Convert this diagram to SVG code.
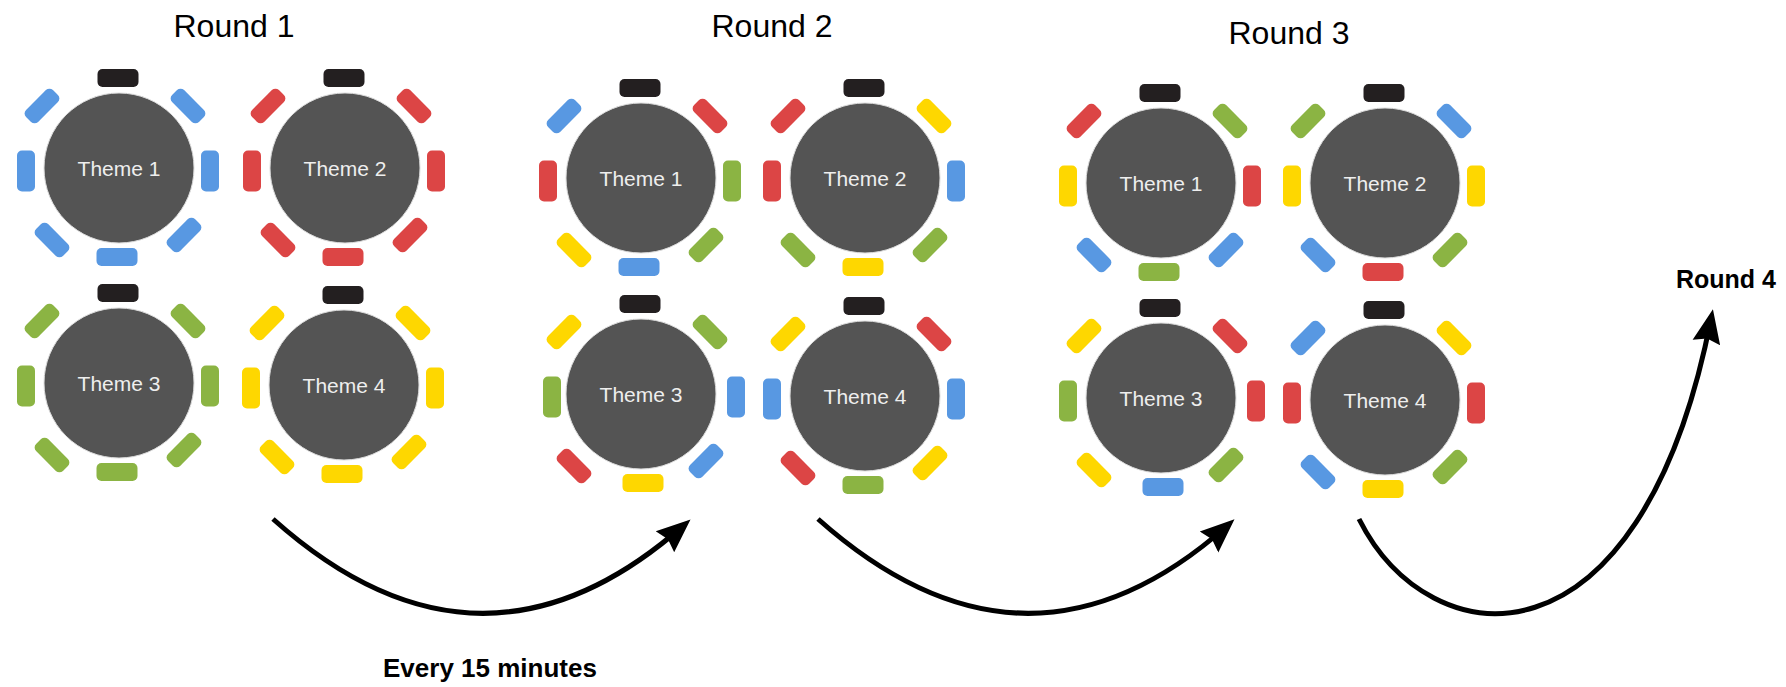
<svg xmlns="http://www.w3.org/2000/svg" xmlns:xlink="http://www.w3.org/1999/xlink" width="1786" height="687" viewBox="0 0 1786 687">
<defs>
<style>
.tbl{fill:#545454;stroke:#dcdcdc;stroke-width:1}
.tt{font-family:"Liberation Sans",Arial,sans-serif;font-size:21px;fill:#eeeeee;text-anchor:middle}
.ttl{font-family:"Liberation Sans",Arial,sans-serif;font-size:32px;fill:#000;text-anchor:middle}
.lbl{font-family:"Liberation Sans",Arial,sans-serif;font-size:25px;font-weight:bold;fill:#000}
.b{fill:#5898e2}.r{fill:#dc4545}.g{fill:#8bb443}.y{fill:#fed700}.k{fill:#231f20}
.arr{fill:none;stroke:#000;stroke-width:5}
</style>
<marker id="ah" markerUnits="userSpaceOnUse" markerWidth="40" markerHeight="34" refX="24" refY="15" orient="auto">
<path d="M0,1 L34,15 L0,29 L4,15 z" fill="#000"/>
</marker>
<rect id="sh" x="-20.5" y="-9" width="41" height="18" rx="5"/>
<rect id="sv" x="-9" y="-20.5" width="18" height="41" rx="5"/>
<rect id="sa" x="-19" y="-8.5" width="38" height="17" rx="5" transform="rotate(-45)"/>
<rect id="sd" x="-19" y="-8.5" width="38" height="17" rx="5" transform="rotate(45)"/>
</defs>
<rect width="1786" height="687" fill="#fff"/>

<g id="titles">
<text class="ttl" x="234" y="37">Round 1</text>
<text class="ttl" x="772" y="37">Round 2</text>
<text class="ttl" x="1289" y="44">Round 3</text>
<text class="lbl" x="1676" y="288">Round 4</text>
<text class="lbl" x="383" y="677" style="font-size:26px">Every 15 minutes</text>
</g>

<!-- Round 1 -->
<g id="r1t1" transform="translate(119,168)">
<use href="#sh" class="k" x="-1" y="-90"/>
<use href="#sa" class="b" x="-77" y="-62"/><use href="#sd" class="b" x="69" y="-62"/>
<use href="#sv" class="b" x="-93" y="3"/><use href="#sv" class="b" x="91" y="3"/>
<use href="#sd" class="b" x="-67" y="72"/><use href="#sa" class="b" x="65" y="67"/>
<use href="#sh" class="b" x="-2" y="89"/>
<circle class="tbl" r="75"/><text class="tt" y="8">Theme 1</text>
</g>
<g id="r1t2" transform="translate(345,168)">
<use href="#sh" class="k" x="-1" y="-90"/>
<use href="#sa" class="r" x="-77" y="-62"/><use href="#sd" class="r" x="69" y="-62"/>
<use href="#sv" class="r" x="-93" y="3"/><use href="#sv" class="r" x="91" y="3"/>
<use href="#sd" class="r" x="-67" y="72"/><use href="#sa" class="r" x="65" y="67"/>
<use href="#sh" class="r" x="-2" y="89"/>
<circle class="tbl" r="75"/><text class="tt" y="8">Theme 2</text>
</g>
<g id="r1t3" transform="translate(119,383)">
<use href="#sh" class="k" x="-1" y="-90"/>
<use href="#sa" class="g" x="-77" y="-62"/><use href="#sd" class="g" x="69" y="-62"/>
<use href="#sv" class="g" x="-93" y="3"/><use href="#sv" class="g" x="91" y="3"/>
<use href="#sd" class="g" x="-67" y="72"/><use href="#sa" class="g" x="65" y="67"/>
<use href="#sh" class="g" x="-2" y="89"/>
<circle class="tbl" r="75"/><text class="tt" y="8">Theme 3</text>
</g>
<g id="r1t4" transform="translate(344,385)">
<use href="#sh" class="k" x="-1" y="-90"/>
<use href="#sa" class="y" x="-77" y="-62"/><use href="#sd" class="y" x="69" y="-62"/>
<use href="#sv" class="y" x="-93" y="3"/><use href="#sv" class="y" x="91" y="3"/>
<use href="#sd" class="y" x="-67" y="72"/><use href="#sa" class="y" x="65" y="67"/>
<use href="#sh" class="y" x="-2" y="89"/>
<circle class="tbl" r="75"/><text class="tt" y="8">Theme 4</text>
</g>

<!-- Round 2 -->
<g id="r2t1" transform="translate(641,178)">
<use href="#sh" class="k" x="-1" y="-90"/>
<use href="#sa" class="b" x="-77" y="-62"/><use href="#sd" class="r" x="69" y="-62"/>
<use href="#sv" class="r" x="-93" y="3"/><use href="#sv" class="g" x="91" y="3"/>
<use href="#sd" class="y" x="-67" y="72"/><use href="#sa" class="g" x="65" y="67"/>
<use href="#sh" class="b" x="-2" y="89"/>
<circle class="tbl" r="75"/><text class="tt" y="8">Theme 1</text>
</g>
<g id="r2t2" transform="translate(865,178)">
<use href="#sh" class="k" x="-1" y="-90"/>
<use href="#sa" class="r" x="-77" y="-62"/><use href="#sd" class="y" x="69" y="-62"/>
<use href="#sv" class="r" x="-93" y="3"/><use href="#sv" class="b" x="91" y="3"/>
<use href="#sd" class="g" x="-67" y="72"/><use href="#sa" class="g" x="65" y="67"/>
<use href="#sh" class="y" x="-2" y="89"/>
<circle class="tbl" r="75"/><text class="tt" y="8">Theme 2</text>
</g>
<g id="r2t3" transform="translate(641,394)">
<use href="#sh" class="k" x="-1" y="-90"/>
<use href="#sa" class="y" x="-77" y="-62"/><use href="#sd" class="g" x="69" y="-62"/>
<use href="#sv" class="g" x="-89" y="3"/><use href="#sv" class="b" x="95" y="3"/>
<use href="#sd" class="r" x="-67" y="72"/><use href="#sa" class="b" x="65" y="67"/>
<use href="#sh" class="y" x="2" y="89"/>
<circle class="tbl" r="75"/><text class="tt" y="8">Theme 3</text>
</g>
<g id="r2t4" transform="translate(865,396)">
<use href="#sh" class="k" x="-1" y="-90"/>
<use href="#sa" class="y" x="-77" y="-62"/><use href="#sd" class="r" x="69" y="-62"/>
<use href="#sv" class="b" x="-93" y="3"/><use href="#sv" class="b" x="91" y="3"/>
<use href="#sd" class="r" x="-67" y="72"/><use href="#sa" class="y" x="65" y="67"/>
<use href="#sh" class="g" x="-2" y="89"/>
<circle class="tbl" r="75"/><text class="tt" y="8">Theme 4</text>
</g>

<!-- Round 3 -->
<g id="r3t1" transform="translate(1161,183)">
<use href="#sh" class="k" x="-1" y="-90"/>
<use href="#sa" class="r" x="-77" y="-62"/><use href="#sd" class="g" x="69" y="-62"/>
<use href="#sv" class="y" x="-93" y="3"/><use href="#sv" class="r" x="91" y="3"/>
<use href="#sd" class="b" x="-67" y="72"/><use href="#sa" class="b" x="65" y="67"/>
<use href="#sh" class="g" x="-2" y="89"/>
<circle class="tbl" r="75"/><text class="tt" y="8">Theme 1</text>
</g>
<g id="r3t2" transform="translate(1385,183)">
<use href="#sh" class="k" x="-1" y="-90"/>
<use href="#sa" class="g" x="-77" y="-62"/><use href="#sd" class="b" x="69" y="-62"/>
<use href="#sv" class="y" x="-93" y="3"/><use href="#sv" class="y" x="91" y="3"/>
<use href="#sd" class="b" x="-67" y="72"/><use href="#sa" class="g" x="65" y="67"/>
<use href="#sh" class="r" x="-2" y="89"/>
<circle class="tbl" r="75"/><text class="tt" y="8">Theme 2</text>
</g>
<g id="r3t3" transform="translate(1161,398)">
<use href="#sh" class="k" x="-1" y="-90"/>
<use href="#sa" class="y" x="-77" y="-62"/><use href="#sd" class="r" x="69" y="-62"/>
<use href="#sv" class="g" x="-93" y="3"/><use href="#sv" class="r" x="95" y="3"/>
<use href="#sd" class="y" x="-67" y="72"/><use href="#sa" class="g" x="65" y="67"/>
<use href="#sh" class="b" x="2" y="89"/>
<circle class="tbl" r="75"/><text class="tt" y="8">Theme 3</text>
</g>
<g id="r3t4" transform="translate(1385,400)">
<use href="#sh" class="k" x="-1" y="-90"/>
<use href="#sa" class="b" x="-77" y="-62"/><use href="#sd" class="y" x="69" y="-62"/>
<use href="#sv" class="r" x="-93" y="3"/><use href="#sv" class="r" x="91" y="3"/>
<use href="#sd" class="b" x="-67" y="72"/><use href="#sa" class="g" x="65" y="67"/>
<use href="#sh" class="y" x="-2" y="89"/>
<circle class="tbl" r="75"/><text class="tt" y="8">Theme 4</text>
</g>

<g id="connectors">
<path class="arr" marker-end="url(#ah)" d="M273,519 Q480,704 683,526"/>
<path class="arr" marker-end="url(#ah)" d="M818,519 Q1026,704 1227,526"/>
<path class="arr" marker-end="url(#ah)" d="M1359,519 C1430,660 1640,680 1711,319"/>
</g>
</svg>
